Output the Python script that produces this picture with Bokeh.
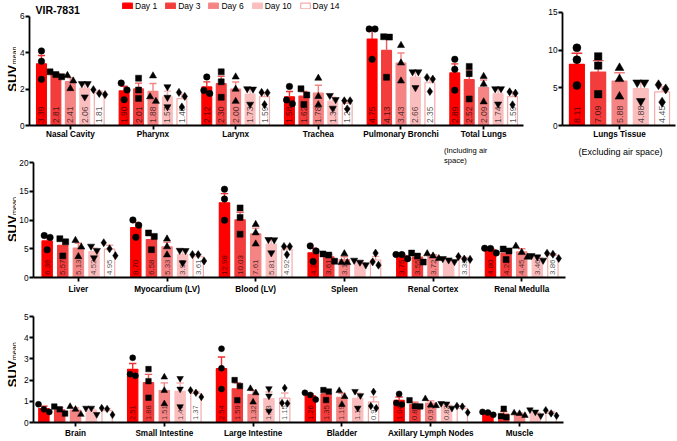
import math
from bokeh.plotting import figure
from bokeh.models import (ColumnDataSource, FixedTicker, Label, Legend, LegendItem, Range1d,
                          LinearAxis)
from bokeh.layouts import column, row
from bokeh.embed import file_html
from bokeh.resources import INLINE
from bokeh.core.properties import value

FONT = "Liberation Sans"

days = ["Day 1", "Day 3", "Day 6", "Day 10", "Day 14"]
fill_colors = ["#ff0000", "#f33c3c", "#f58484", "#fbbebe", "#ffffff"]
line_colors = ["#ff0000", "#f33c3c", "#f58484", "#fbbebe", "#f5aaaa"]
err_colors = ["#ee3030", "#f05a5a", "#f48484", "#f7b2b2", "#f5aaaa"]
markers = ["circle", "square", "triangle", "inverted_triangle", "diamond"]
marker_scale = [1.0, 0.92, 1.1, 1.1, 1.25]

# ---------------- Panel A : airways ----------------
organs_a = ["Nasal Cavity", "Pharynx", "Larynx", "Trachea", "Pulmonary Bronchi", "Total Lungs"]
means_a = [
    [3.39, 2.81, 2.41, 2.06, 1.81],
    [1.90, 2.01, 1.88, 1.57, 1.48],
    [2.12, 2.30, 2.00, 1.73, 1.59],
    [1.58, 1.62, 1.78, 1.34, 1.21],
    [4.75, 4.13, 3.43, 2.66, 2.35],
    [2.89, 2.52, 2.09, 1.74, 1.59],
]
sem_a = [
    [0.46, 0.08, 0.21, 0.24, 0.08],
    [0.26, 0.32, 0.43, 0.32, 0.24],
    [0.28, 0.41, 0.39, 0.28, 0.22],
    [0.29, 0.25, 0.43, 0.21, 0.15],
    [0.56, 0.74, 0.56, 0.29, 0.24],
    [0.50, 0.54, 0.41, 0.28, 0.23],
]
points_a = [
    [[4.10, 3.53, 2.54], [2.95, 2.80, 2.68], [2.75, 2.45, 2.03], [2.30, 2.30, 1.57], [1.97, 1.76, 1.70]],
    [[2.33, 1.95, 1.42], [2.60, 1.95, 1.49], [2.73, 1.58, 1.33], [2.13, 1.55, 1.03], [1.82, 1.60, 1.02]],
    [[2.67, 1.76, 1.93], [2.95, 2.40, 1.55], [2.67, 2.00, 1.33], [2.02, 2.00, 1.17], [1.82, 1.80, 1.15]],
    [[2.15, 1.20, 1.40], [2.02, 1.68, 1.16], [2.60, 1.60, 1.14], [1.42, 1.65, 0.95], [1.36, 1.36, 0.91]],
    [[5.31, 5.31, 3.64], [4.88, 4.86, 2.65], [4.40, 3.44, 2.45], [2.95, 2.95, 2.08], [2.55, 2.64, 1.87]],
    [[3.64, 3.09, 1.94], [3.25, 2.85, 1.46], [2.70, 2.27, 1.30], [2.02, 2.02, 1.18], [1.85, 1.78, 1.14]],
]
show_a = [[1] * 5 for _ in organs_a]
yticks_a = [0, 2, 4, 6]
sub_a = ["(Including air", "space)"]

# ---------------- Panel B : lungs tissue ----------------
organs_b = ["Lungs Tissue"]
means_b = [[8.11, 7.09, 5.88, 4.88, 4.45]]
sem_b = [[1.48, 1.51, 1.11, 0.82, 0.69]]
points_b = [[[10.30, 8.73, 5.30], [9.17, 7.95, 4.15], [7.64, 6.16, 3.84], [5.70, 5.70, 3.24], [5.40, 4.85, 3.10]]]
show_b = [[1] * 5]
yticks_b = [0, 5, 10, 15]
sub_b = "(Excluding air space)"

# ---------------- Panel C : organs ----------------
organs_c = ["Liver", "Myocardium (LV)", "Blood (LV)", "Spleen", "Renal Cortex", "Renal Medulla"]
means_c = [
    [6.36, 5.57, 5.13, 4.52, 4.95],
    [8.70, 6.58, 5.33, 3.98, 3.61],
    [12.98, 10.03, 7.61, 5.81, 4.92],
    [4.30, 3.61, 3.11, 2.62, 3.04],
    [3.75, 3.55, 3.72, 3.03, 3.33],
    [4.80, 4.23, 4.45, 3.46, 3.86],
]
sem_c = [
    [0.78, 0.92, 0.82, 0.59, 0.65],
    [0.89, 0.89, 0.80, 0.72, 0.37],
    [1.60, 1.33, 0.98, 0.76, 0.47],
    [0.79, 0.39, 0.51, 0.23, 0.63],
    [0.24, 0.46, 0.24, 0.16, 0.16],
    [0.27, 0.56, 0.55, 0.24, 0.28],
]
points_c = [
    [[6.97, 7.30, 4.81], [6.20, 6.75, 3.76], [6.45, 5.30, 3.64], [4.70, 5.44, 3.42], [6.05, 5.00, 3.80]],
    [[10.00, 9.10, 7.00], [7.15, 7.75, 4.84], [6.70, 5.35, 3.94], [4.72, 4.68, 2.54], [3.98, 3.98, 2.87]],
    [[15.35, 13.65, 9.94], [12.10, 10.45, 7.54], [9.23, 7.77, 5.83], [6.60, 6.55, 4.28], [5.40, 5.38, 3.98]],
    [[5.50, 4.60, 2.80], [3.90, 4.10, 2.83], [4.13, 2.60, 2.60], [2.66, 3.00, 2.20], [4.25, 2.15, 2.72]],
    [[4.00, 3.98, 3.27], [3.72, 4.25, 2.68], [4.13, 3.74, 3.30], [2.75, 3.05, 3.30], [3.65, 3.20, 3.15]],
    [[5.08, 5.05, 4.27], [4.62, 4.95, 3.12], [5.45, 4.35, 3.55], [3.00, 3.80, 3.58], [4.22, 4.05, 3.31]],
]
show_c = [[1] * 5, [1] * 5, [1] * 5, [1, 1, 1, 0, 0], [1, 1, 1, 0, 1], [1] * 5]
yticks_c = [0, 5, 10, 15, 20]

# ---------------- Panel D : other tissues ----------------
organs_d = ["Brain", "Small Intestine", "Large Intestine", "Bladder", "Axillary Lymph Nodes", "Muscle"]
means_d = [
    [0.66, 0.60, 0.58, 0.58, 0.56],
    [2.51, 1.88, 1.51, 1.47, 1.37],
    [2.54, 1.59, 1.32, 1.13, 1.15],
    [1.26, 1.35, 1.19, 1.14, 0.97],
    [1.04, 0.86, 0.91, 0.82, 0.67],
    [0.44, 0.40, 0.40, 0.47, 0.44],
]
sem_d = [
    [0.11, 0.10, 0.11, 0.10, 0.10],
    [0.27, 0.39, 0.36, 0.39, 0.09],
    [0.55, 0.28, 0.19, 0.31, 0.24],
    [0.09, 0.15, 0.19, 0.24, 0.24],
    [0.16, 0.10, 0.11, 0.07, 0.10],
    [0.04, 0.12, 0.04, 0.08, 0.08],
]
points_d = [
    [[0.86, 0.50, 0.62], [0.62, 0.75, 0.42], [0.62, 0.75, 0.38], [0.68, 0.68, 0.38], [0.64, 0.68, 0.36]],
    [[3.05, 2.20, 2.28], [2.52, 1.95, 1.17], [2.14, 1.51, 0.88], [2.08, 1.58, 0.75], [1.52, 1.40, 1.20]],
    [[3.48, 2.56, 1.58], [2.00, 1.72, 1.05], [1.40, 1.60, 0.96], [1.60, 1.25, 0.54], [1.63, 0.92, 0.90]],
    [[1.40, 1.30, 1.08], [1.46, 1.53, 1.06], [1.50, 1.22, 0.85], [1.47, 1.27, 0.68], [1.45, 0.68, 0.78]],
    [[1.35, 0.85, 0.92], [1.05, 0.76, 0.77], [1.12, 0.82, 0.79], [0.88, 0.90, 0.68], [0.75, 0.78, 0.47]],
    [[0.47, 0.50, 0.36], [0.65, 0.25, 0.30], [0.45, 0.42, 0.33], [0.50, 0.60, 0.32], [0.58, 0.32, 0.43]],
]
show_d = [[0] * 5, [1] * 5, [1] * 5, [1] * 5, [1, 1, 1, 1, 0], [0] * 5]
yticks_d = [0, 1, 2, 3, 4, 5]


def jitter(vals, ypx, size_px):
    order = sorted(range(len(vals)), key=lambda i: -vals[i])
    clusters = []
    for i in order:
        if clusters and abs(vals[clusters[-1][-1]] - vals[i]) * ypx < size_px * 1.1:
            clusters[-1].append(i)
        else:
            clusters.append([i])
    off = [0.0] * len(vals)
    for c in clusters:
        n = len(c)
        for k, i in enumerate(c):
            off[i] = (k - (n - 1) / 2) * size_px * 0.9
    return off


def style_axis(ax):
    ax.axis_line_width = 1.8
    ax.axis_line_color = "black"
    ax.major_tick_line_width = 1.8
    ax.major_tick_line_color = "black"
    ax.major_tick_in = 0
    ax.major_tick_out = 4
    ax.minor_tick_line_color = None
    ax.major_label_text_font = FONT
    ax.major_label_text_color = "black"


def build(organs, means, sems, points, shows, yticks, cfg):
    w, h = cfg["w"], cfg["h"]
    ml, mr, mt, mb = cfg["mb"]
    x0, x1 = cfg["xr"]
    fw = w - ml - mr
    fh = h - mt - mb
    ytop = cfg["ytop"]
    ypx = fh / ytop
    p = figure(width=w, height=h, x_range=Range1d(x0, x1), y_range=Range1d(0, ytop),
               output_backend="svg", toolbar_location=None,
               min_border_left=ml, min_border_right=mr, min_border_top=mt, min_border_bottom=mb)
    p.outline_line_color = None
    p.xgrid.visible = False
    p.ygrid.visible = False
    p.background_fill_color = "white"
    p.border_fill_color = "white"

    xpx = fw / (x1 - x0)
    s = cfg["spacing"]
    bw = cfg["barw"]
    ms = cfg["msize"]
    n = len(organs)

    bar_renderers = []
    for d in range(5):
        xs = [g + (d - 2) * s for g in range(n)]
        tops = [means[g][d] for g in range(n)]
        src = ColumnDataSource(dict(x=xs, top=tops))
        r = p.vbar(x="x", top="top", bottom=0, width=bw, source=src,
                   fill_color=fill_colors[d], line_color=line_colors[d], line_width=1.2)
        bar_renderers.append(r)

    for d in range(5):
        lx, lt = [], []
        for g in range(n):
            if shows[g][d]:
                lx.append(g + (d - 2) * s)
                lt.append(f"{means[g][d]:.2f}")
        if lx:
            p.text(x=lx, y=[0] * len(lx), text=lt, angle=math.pi / 2,
                   text_align="left", text_baseline="middle", y_offset=-2.5,
                   text_font=value(FONT), text_font_size=cfg["vfs"],
                   text_color="black", text_alpha=0.7)

    cap = bw * 0.36
    for d in range(5):
        xs = [g + (d - 2) * s for g in range(n)]
        lo = [means[g][d] for g in range(n)]
        hi = [means[g][d] + sems[g][d] for g in range(n)]
        p.segment(x0=xs, y0=lo, x1=xs, y1=hi, line_color=err_colors[d], line_width=1.4)
        p.segment(x0=[x - cap for x in xs], y0=hi, x1=[x + cap for x in xs], y1=hi,
                  line_color=err_colors[d], line_width=1.4)

    for d in range(5):
        size = ms * marker_scale[d]
        px_, py_ = [], []
        for g in range(n):
            vals = points[g][d]
            offs = jitter(vals, ypx, ms)
            for v, o in zip(vals, offs):
                px_.append(g + (d - 2) * s + o / xpx)
                py_.append(v)
        p.scatter(x=px_, y=py_, marker=markers[d], size=size,
                  fill_color="black", line_color="black", line_width=0.5)

    style_axis(p.xaxis[0])
    style_axis(p.yaxis[0])
    p.yaxis.ticker = FixedTicker(ticks=yticks)
    p.yaxis.bounds = (0, yticks[-1])
    p.yaxis.major_label_text_font_size = "8.3px"
    p.yaxis.major_label_standoff = 1
    p.xaxis.ticker = FixedTicker(ticks=list(range(n)))
    p.xaxis.major_label_overrides = {i: o for i, o in enumerate(organs)}
    p.xaxis.major_label_text_font_style = "bold"
    p.xaxis.major_label_text_font_size = "8.2px"
    p.xaxis.major_label_standoff = cfg["xstand"]

    return p, bar_renderers, xpx


def text_axis(p, pos, text, size, standoff, side):
    ax = LinearAxis(ticker=FixedTicker(ticks=[pos]), major_label_overrides={pos: text},
                    axis_line_color=None, major_tick_line_color=None, minor_tick_line_color=None,
                    major_tick_out=0, major_tick_in=0, major_label_standoff=standoff,
                    major_label_text_font=FONT, major_label_text_font_size=size,
                    major_label_text_color="black")
    p.add_layout(ax, side)


def blank(w, h, mt, mb, xr, yr):
    s = figure(width=w, height=h, x_range=Range1d(*xr), y_range=Range1d(*yr),
               output_backend="svg", toolbar_location=None, x_axis_type=None, y_axis_type=None,
               min_border_left=0, min_border_right=0, min_border_top=mt, min_border_bottom=mb)
    s.outline_line_color = None
    s.xgrid.visible = False
    s.ygrid.visible = False
    return s


SW = 16  # width of the strip that holds the rotated y-axis title


def suv_strip(h, mt, mb, y_start):
    fh = h - mt - mb
    s = blank(SW, h, mt, mb, (0, SW), (0, fh))
    s.text(x=[12.2], y=[y_start], text=["SUV"], angle=math.pi / 2, text_align="left",
           text_baseline="alphabetic", text_font=value(FONT), text_font_size="13px",
           text_font_style="bold", text_color="black")
    s.text(x=[13.5], y=[y_start + 27.5], text=["mean"], angle=math.pi / 2, text_align="left",
           text_baseline="alphabetic", text_font=value(FONT), text_font_size="7.2px",
           text_color="black")
    return s


# ----- geometry (pixels) -----
H1, T1, B1 = 141, 0, 15     # row 1: frame 0..126
H2, T2, B2 = 155, 21, 17    # row 2: frame 162..279
H3, T3, B3 = 144, 20, 16    # row 3: frame 316..424

cfg_a = dict(w=530 - SW, h=H1, mb=(27 - SW, 7, T1, B1), xr=(-0.494, 5.482), spacing=0.1747,
             barw=0.1747 * 0.68, msize=6.5, vfs="8.5px", ytop=(H1 - T1 - B1) * 6 / 110, xstand=0)
cfg_b = dict(w=146, h=H1, mb=(32, 1, T1, B1), xr=(-2.676, 2.629), spacing=1.0,
             barw=0.70, msize=8, vfs="9px", ytop=(H1 - T1 - B1) * 15 / 114, xstand=0)
cfg_c = dict(w=566 - SW, h=H2, mb=(31 - SW, 1, T2, B2), xr=(-0.506, 5.494), spacing=0.176,
             barw=0.176 * 0.66, msize=6.5, vfs="8px", ytop=20, xstand=3)
cfg_d = dict(w=564 - SW, h=H3, mb=(33 - SW, 1, T3, B3), xr=(-0.473, 5.495), spacing=0.178,
             barw=0.178 * 0.65, msize=6, vfs="7.6px", ytop=5, xstand=2)

pa, rs_a, xpx_a = build(organs_a, means_a, sem_a, points_a, show_a, yticks_a, cfg_a)
pb, _, _ = build(organs_b, means_b, sem_b, points_b, show_b, yticks_b, cfg_b)
pc, _, xpx_c = build(organs_c, means_c, sem_c, points_c, show_c, yticks_c, cfg_c)
pd_, _, _ = build(organs_d, means_d, sem_d, points_d, show_d, yticks_d, cfg_d)

fa_h = H1 - T1 - B1
# title and legend (inside the frame of panel A, above the top tick)
pa.add_layout(Label(x=6, y=fa_h - 10.5, x_units="screen", y_units="screen", text="VIR-7831",
                    text_align="left", text_baseline="alphabetic", text_font=FONT,
                    text_font_size="10.5px", text_font_style="bold", text_color="black"))
legend = Legend(items=[LegendItem(label=days[d], renderers=[rs_a[d]]) for d in range(5)],
                location=(92, fa_h - 11.5), orientation="horizontal", glyph_width=12, glyph_height=7,
                label_standoff=2, spacing=7, padding=0, margin=0, border_line_color=None,
                background_fill_alpha=0, label_text_font=FONT, label_text_font_size="8.5px",
                label_height=9, label_text_line_height=1.0, label_text_color="black")
pa.add_layout(legend)

# second / third line of the "Total Lungs" label, drawn in the top margin of panel C
left_px = 443 - 31  # left edge of the text block, px from C frame left
w1 = 5.724 * 7.6
w2 = 3.001 * 7.6
pos1 = round(cfg_c["xr"][0] + (left_px + w1 / 2) / xpx_c, 4)
pos2 = round(cfg_c["xr"][0] + (left_px + w2 / 2) / xpx_c, 4)
text_axis(pc, pos2, sub_a[1], "7.6px", -2, "above")
text_axis(pc, pos1, sub_a[0], "7.6px", -2, "above")

# "(Excluding air space)" drawn in the top margin of a blank figure right of panel C
fb = blank(676 - 566, H2, T2, B2, (566, 676), (0, 1))
text_axis(fb, 620, sub_b, "9px", 6, "above")

sa = suv_strip(H1, T1, B1, (H1 - B1) - 92)
sc = suv_strip(H2, T2, B2, (H1 + H2 - B2) - 243)
sd = suv_strip(H3, T3, B3, (H1 + H2 + H3 - B3) - 388)

layout = column(row(sa, pa, pb), row(sc, pc, fb), row(sd, pd_))

open("out.html", "w").write(file_html(layout, INLINE))
